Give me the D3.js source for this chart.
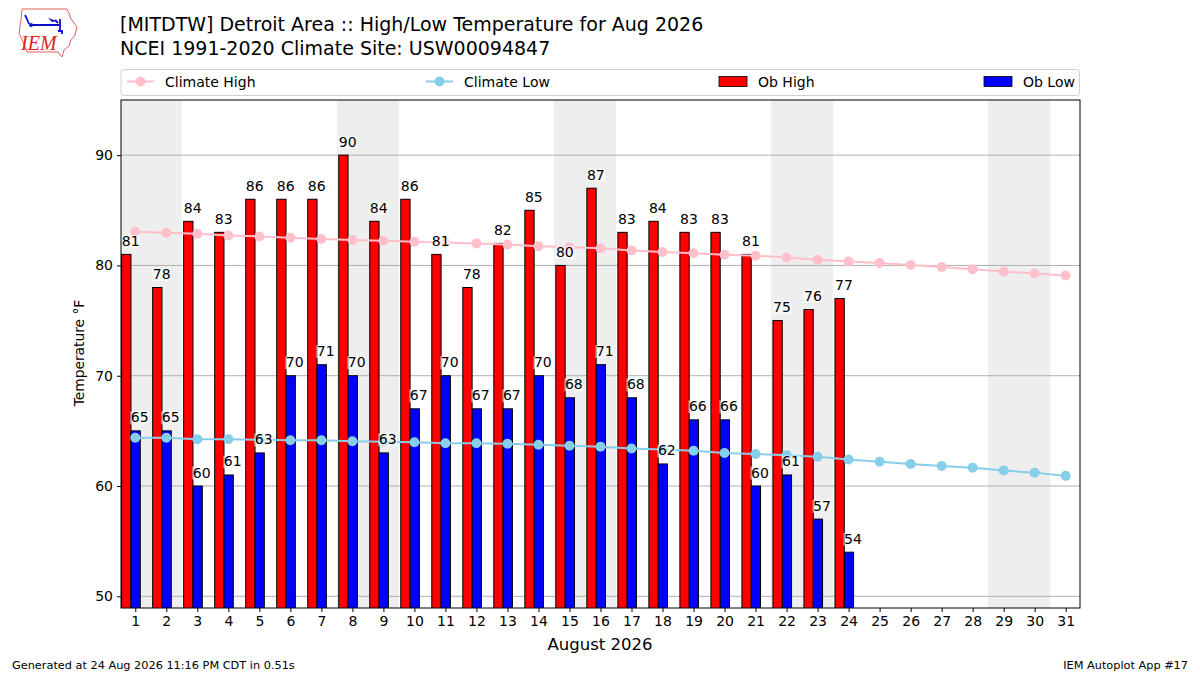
<!DOCTYPE html>
<html><head><meta charset="utf-8">
<script src="https://cdn.jsdelivr.net/npm/d3@7"></script>
<style>
body{margin:0;background:#fff;}
svg{display:block;font-family:"DejaVu Sans",sans-serif;}
</style></head>
<body><svg id="c" width="1200" height="675"></svg>
<script>
const days = [1,2,3,4,5,6,7,8,9,10,11,12,13,14,15,16,17,18,19,20,21,22,23,24,25,26,27,28,29,30,31];
const obDays = [1,2,3,4,5,6,7,8,9,10,11,12,13,14,15,16,17,18,19,20,21,22,23,24];
const obHigh = [81,78,84,83,86,86,86,90,84,86,81,78,82,85,80,87,83,84,83,83,81,75,76,77];
const obLow  = [65,65,60,61,63,70,71,70,63,67,70,67,67,70,68,71,68,62,66,66,60,61,57,54];
const climHigh = [83.06,82.97,82.88,82.72,82.63,82.5,82.4,82.3,82.24,82.15,82.08,82.0,81.9,81.75,81.66,81.55,81.35,81.22,81.1,80.97,80.88,80.72,80.52,80.35,80.22,80.05,79.85,79.65,79.45,79.27,79.08];
const climLow  = [64.37,64.37,64.25,64.25,64.2,64.15,64.15,64.06,64.02,63.97,63.88,63.88,63.83,63.74,63.65,63.57,63.4,63.3,63.19,63.0,62.9,62.8,62.65,62.4,62.2,62.0,61.82,61.65,61.4,61.2,60.92];
const weekendStarts = [1,8,15,22,29];
const yTicks = [50,60,70,80,90];
const titleLines = ["[MITDTW] Detroit Area :: High/Low Temperature for Aug 2026","NCEI 1991-2020 Climate Site: USW00094847"];

const svg = d3.select("#c");
const L=121, R=1080, T=100, B=608;
const x = d3.scaleLinear().domain([0.539,31.461]).range([L,R]);
const y = d3.scaleLinear().domain([48.94,95]).range([B,T]);

// logo
const logo = svg.append("g");
logo.append("path").attr("d","M22,9 L67,9 L69,13 L71,19 L77,27 L75,35 L71,40 L69,46 L64,50 L62,57 L58,52 L27,52 L24,44 L19,33 L21,20 Z")
  .attr("fill","none").attr("stroke","#e06060").attr("stroke-width",1);
logo.append("path").attr("d","M31,25 L60,25 M60,19 L60,30 M55,20 L58,23 M25,15 L27,19 L29,24 M58,31 L62,31 L62,34")
  .attr("fill","none").attr("stroke","#1010cc").attr("stroke-width",1.8);
logo.append("path").attr("d","M48,18 L57,21 L52,22 Z").attr("fill","#1010cc");
logo.append("circle").attr("cx",31).attr("cy",25).attr("r",2).attr("fill","#1010cc");
logo.append("text").attr("x",21).attr("y",50).attr("font-family","Liberation Serif, serif").attr("font-style","italic")
  .attr("font-size",20).attr("fill","#dd2222").text("IEM");

// titles
titleLines.forEach((t,i)=>{
  svg.append("text").attr("x",120).attr("y",31+i*24).attr("font-size",19).attr("fill","#000").text(t);
});

// legend
const lg = svg.append("g");
lg.append("rect").attr("x",121).attr("y",69.5).attr("width",958.5).attr("height",26).attr("rx",3)
  .attr("fill","#fff").attr("stroke","#d0d0d0");
const legItems = [
  {type:"line",color:"pink",x:127,label:"Climate High"},
  {type:"line",color:"skyblue",x:426,label:"Climate Low"},
  {type:"patch",color:"#ff0000",x:719,label:"Ob High"},
  {type:"patch",color:"#0000ff",x:984,label:"Ob Low"}
];
legItems.forEach(it=>{
  if(it.type==="line"){
    lg.append("line").attr("x1",it.x).attr("x2",it.x+27).attr("y1",81.5).attr("y2",81.5).attr("stroke",it.color).attr("stroke-width",2);
    lg.append("circle").attr("cx",it.x+13.5).attr("cy",81.5).attr("r",5).attr("fill",it.color);
    lg.append("text").attr("x",it.x+38).attr("y",86.5).attr("font-size",14).text(it.label);
  } else {
    lg.append("rect").attr("x",it.x).attr("y",76.5).attr("width",28).attr("height",10).attr("fill",it.color).attr("stroke","#000").attr("stroke-width",0.8);
    lg.append("text").attr("x",it.x+39).attr("y",86.5).attr("font-size",14).text(it.label);
  }
});

// clip
svg.append("clipPath").attr("id","clip").append("rect").attr("x",L).attr("y",T).attr("width",R-L).attr("height",B-T);
const plot = svg.append("g").attr("clip-path","url(#clip)");

// weekend bands
plot.selectAll(".wk").data(weekendStarts).join("rect")
  .attr("x",d=>x(d-0.5)).attr("width",d=>x(d+1.5)-x(d-0.5)).attr("y",T).attr("height",B-T).attr("fill","#eeeeee");

// gridlines
plot.selectAll(".gl").data(yTicks).join("line")
  .attr("x1",L).attr("x2",R).attr("y1",d=>y(d)).attr("y2",d=>y(d)).attr("stroke","#b0b0b0").attr("stroke-width",1);

// bars
plot.selectAll(".bh").data(obDays).join("rect")
  .attr("x",d=>x(d-0.44)).attr("width",d=>x(d-0.14)-x(d-0.44))
  .attr("y",(d,i)=>y(obHigh[i])).attr("height",(d,i)=>B+5-y(obHigh[i]))
  .attr("fill","#ff0000").attr("stroke","#000").attr("stroke-width",1);
plot.selectAll(".bl").data(obDays).join("rect")
  .attr("x",d=>x(d-0.14)).attr("width",d=>x(d+0.16)-x(d-0.14))
  .attr("y",(d,i)=>y(obLow[i])).attr("height",(d,i)=>B+5-y(obLow[i]))
  .attr("fill","#0000ff").attr("stroke","#000").attr("stroke-width",1);

// climate lines
function climLine(vals,color){
  const line = d3.line().x((d,i)=>x(days[i])).y(d=>y(d));
  plot.append("path").datum(vals).attr("d",line).attr("fill","none").attr("stroke",color).attr("stroke-width",2);
  plot.selectAll(null).data(vals).join("circle").attr("cx",(d,i)=>x(days[i])).attr("cy",d=>y(d)).attr("r",5).attr("fill",color);
}
climLine(climHigh,"pink");
climLine(climLow,"skyblue");

// labels
function labels(vals,off){
  const g = svg.append("g");
  vals.forEach((v,i)=>{
    const cx = x(obDays[i]+off), by = y(v)-8.5;
    g.append("rect").attr("x",cx-9.5).attr("y",by-11).attr("width",19).attr("height",13).attr("fill","#fff").attr("opacity",0.55);
    g.append("text").attr("x",cx).attr("y",by).attr("text-anchor","middle").attr("font-size",14).text(v);
  });
}
labels(obHigh,-0.15);
labels(obLow,0.14);

// frame
svg.append("rect").attr("x",L).attr("y",T).attr("width",R-L).attr("height",B-T).attr("fill","none").attr("stroke","#000").attr("stroke-width",1);

// axes
const ya = svg.append("g").attr("transform",`translate(${L},0)`)
  .call(d3.axisLeft(y).tickValues(yTicks).tickSize(4).tickPadding(4));
ya.select(".domain").remove();
ya.selectAll("text").attr("font-size",14).attr("font-family","DejaVu Sans").attr("fill","#000");
const xa = svg.append("g").attr("transform",`translate(0,${B})`)
  .call(d3.axisBottom(x).tickValues(days).tickFormat(d3.format("d")).tickSize(4).tickPadding(4));
xa.select(".domain").remove();
xa.selectAll("text").attr("font-size",14).attr("font-family","DejaVu Sans").attr("fill","#000");

svg.append("text").attr("transform","translate(84,353) rotate(-90)").attr("text-anchor","middle").attr("font-size",13.8).text("Temperature °F");
svg.append("text").attr("x",600).attr("y",650).attr("text-anchor","middle").attr("font-size",16.5).text("August 2026");

svg.append("text").attr("x",12).attr("y",669).attr("font-size",11.3).text("Generated at 24 Aug 2026 11:16 PM CDT in 0.51s");
svg.append("text").attr("x",1188).attr("y",669).attr("text-anchor","end").attr("font-size",11.3).text("IEM Autoplot App #17");
</script></body></html>
